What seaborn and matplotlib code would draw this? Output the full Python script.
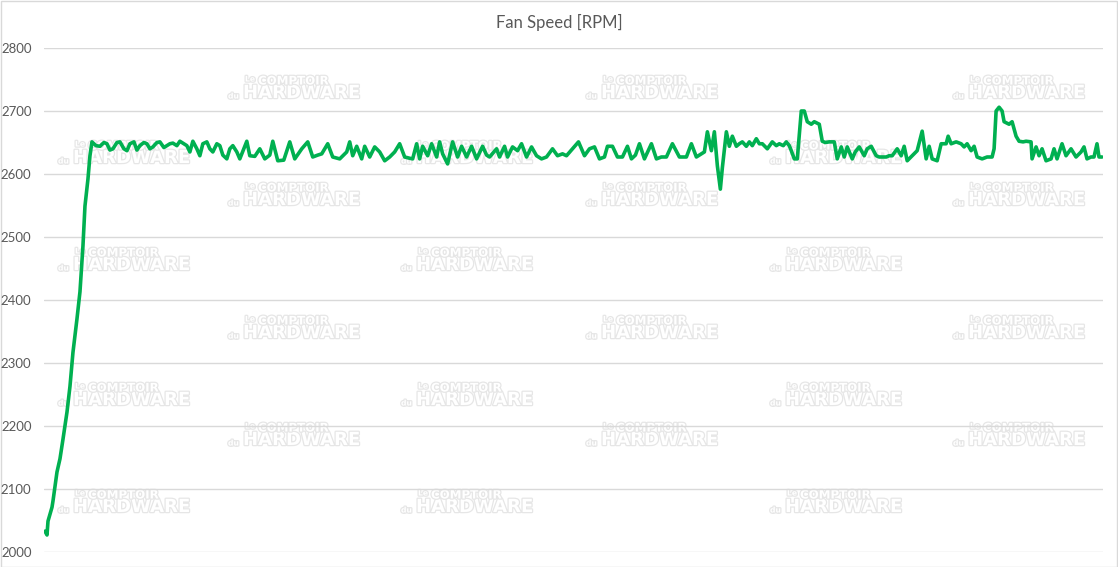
import numpy as np
import pandas as pd
import seaborn as sns
import matplotlib.pyplot as plt
from matplotlib import patheffects as pe

# time in seconds and fan speed in RPM
seconds = [0, 2, 3, 7, 8, 12, 15, 18, 22, 25, 28, 32, 35, 38, 40, 43, 45, 47,
           51, 55, 59, 62, 65, 68, 72, 75, 79, 82, 85, 89, 92, 95, 99, 102, 105,
           108, 112, 115, 119, 122, 125, 128, 132, 135, 139, 142, 145, 148, 152,
           155, 158, 162, 165, 168, 172, 175, 178, 182, 185, 188, 192, 195, 199,
           202, 205, 210, 215, 220, 225, 228, 233, 239, 245, 250, 257, 263, 268,
           273, 277, 283, 288, 295, 302, 305, 308, 312, 317, 320, 325, 330, 335,
           340, 345, 350, 355, 360, 365, 368, 372, 375, 378, 383, 387, 392, 395,
           398, 403, 408, 413, 417, 422, 427, 432, 438, 442, 445, 452, 455, 460,
           463, 468, 473, 477, 482, 487, 492, 497, 502, 508, 513, 518, 522, 528,
           534, 540, 545, 550, 555, 560, 563, 568, 573, 578, 583, 587, 591, 595,
           600, 607, 612, 617, 622, 628, 635, 642, 647, 652, 657, 660, 663, 667,
           670, 673, 676, 678, 682, 685, 688, 692, 695, 698, 702, 705, 708, 712,
           715, 718, 723, 728, 732, 735, 739, 742, 745, 747, 750, 753, 757, 760,
           763, 767, 770, 775, 778, 781, 785, 790, 793, 797, 800, 803, 808, 811,
           815, 820, 823, 827, 832, 835, 838, 842, 845, 848, 853, 857, 860, 863,
           868, 873, 878, 882, 885, 888, 893, 897, 902, 904, 907, 912, 917, 920,
           923, 927, 930, 933, 938, 943, 948, 950, 952, 955, 958, 960, 965, 968,
           972, 975, 979, 982, 987, 988, 992, 995, 998, 1002, 1007, 1010, 1013,
           1018, 1022, 1027, 1032, 1037, 1040, 1043, 1047, 1050, 1053, 1055, 1058]
rpm = [2033, 2027, 2049, 2071, 2081, 2127, 2148, 2179, 2222, 2263, 2317, 2370,
       2413, 2486, 2549, 2592, 2629, 2651, 2645, 2644, 2650, 2648, 2638, 2640,
       2650, 2651, 2640, 2637, 2648, 2651, 2638, 2645, 2650, 2648, 2640, 2643,
       2650, 2651, 2642, 2645, 2648, 2649, 2645, 2652, 2648, 2645, 2635, 2652,
       2640, 2629, 2648, 2651, 2640, 2635, 2648, 2645, 2630, 2624, 2640, 2645,
       2635, 2624, 2640, 2652, 2629, 2628, 2640, 2624, 2630, 2652, 2621, 2622,
       2651, 2624, 2640, 2651, 2627, 2630, 2632, 2648, 2627, 2624, 2635, 2651,
       2629, 2644, 2624, 2644, 2627, 2643, 2635, 2621, 2627, 2635, 2648, 2627,
       2625, 2624, 2648, 2624, 2644, 2629, 2648, 2627, 2651, 2632, 2616, 2651,
       2627, 2644, 2627, 2644, 2624, 2644, 2630, 2627, 2640, 2627, 2644, 2627,
       2643, 2637, 2648, 2627, 2643, 2629, 2624, 2627, 2640, 2629, 2632, 2629,
       2640, 2651, 2629, 2640, 2643, 2624, 2627, 2644, 2644, 2627, 2627, 2644,
       2624, 2630, 2648, 2624, 2648, 2624, 2627, 2627, 2648, 2627, 2627, 2648,
       2627, 2632, 2635, 2667, 2637, 2667, 2613, 2576, 2610, 2667, 2644, 2660,
       2644, 2648, 2651, 2644, 2651, 2645, 2656, 2648, 2648, 2640, 2651, 2645,
       2648, 2645, 2651, 2645, 2637, 2624, 2624, 2700, 2700, 2683, 2679, 2683,
       2679, 2652, 2650, 2651, 2651, 2624, 2643, 2627, 2643, 2624, 2635, 2643,
       2629, 2640, 2644, 2629, 2627, 2627, 2627, 2629, 2629, 2640, 2629, 2644,
       2621, 2629, 2637, 2668, 2624, 2644, 2624, 2621, 2648, 2648, 2660, 2648,
       2651, 2648, 2643, 2648, 2637, 2644, 2627, 2624, 2627, 2627, 2640, 2700,
       2706, 2700, 2683, 2679, 2683, 2660, 2652, 2651, 2652, 2651, 2624, 2643,
       2629, 2640, 2621, 2624, 2640, 2624, 2648, 2629, 2640, 2627, 2635, 2643,
       2624, 2627, 2627, 2648, 2627, 2627]
yticks = [2000, 2100, 2200, 2300, 2400, 2500, 2600, 2700, 2800]

df = pd.DataFrame({"t": seconds[:len(rpm)], "rpm": rpm})

sns.set_theme(style="white")
plt.rcParams['font.family'] = ['Lato', 'DejaVu Sans']

fig = plt.figure(figsize=(11.18, 5.67), dpi=100)
ax = fig.add_axes([44 / 1118, 1 - 552 / 567, (1103 - 44) / 1118, (552 - 48) / 567])
ax.set_zorder(2)
ax.patch.set_alpha(0)

# watermark behind the chart
wm_rows = [(243, 93, 'A'), (73, 158, 'B'), (243, 200, 'A'), (73, 265, 'B'),
           (243, 333, 'A'), (73, 400, 'B'), (243, 440, 'A'), (73, 507, 'B')]
outline = [pe.withStroke(linewidth=1.8, foreground='#E6E6E6')]
wm = dict(family='DejaVu Sans', fontweight='heavy', color='white', ha='left',
          va='center', path_effects=outline, zorder=1)
for x0, yh, kind in wm_rows:
    xs = [x0, x0 + 358, x0 + 725] if kind == 'A' else [x0, x0 + 343, x0 + 712]
    for xx in xs:
        fig.text(xx / 1118, 1 - yh / 567, "HARDWARE", fontsize=13, **wm)
        fig.text((xx + 15) / 1118, 1 - (yh - 12) / 567, "COMPTOIR", fontsize=8.5, **wm)
        fig.text((xx + 2) / 1118, 1 - (yh - 14) / 567, "Le", fontsize=5.5, **wm)
        fig.text((xx - 15) / 1118, 1 - (yh + 3) / 567, "du", fontsize=5.5, **wm)

sns.lineplot(data=df, x="t", y="rpm", ax=ax, color='#00B050', linewidth=2.6)

ax.set_ylim(2000, 2800)
ax.set_xlim(-1, 1059)
ax.set_yticks(yticks)
ax.set_yticklabels([str(v) for v in yticks])
ax.set_xticks([])
ax.set_xlabel("")
ax.set_ylabel("")
ax.grid(axis='y', color='#D9D9D9', linewidth=1)
ax.set_axisbelow(True)
for s in ax.spines.values():
    s.set_visible(False)
ax.tick_params(axis='y', length=0, pad=9, labelsize=9.5, labelcolor='#595959')

fig.text(0.5, 1 - 22 / 567, "Fan Speed [RPM]", ha='center', va='center',
         fontsize=12, color='#595959')

fig.patches.append(plt.Rectangle((0.5 / 1118, 0.5 / 567), 1 - 1.5 / 1118, 1 - 1.5 / 567,
                                 transform=fig.transFigure, fill=False,
                                 edgecolor='#D9D9D9', linewidth=1))

fig.savefig("out.png", dpi=100)
